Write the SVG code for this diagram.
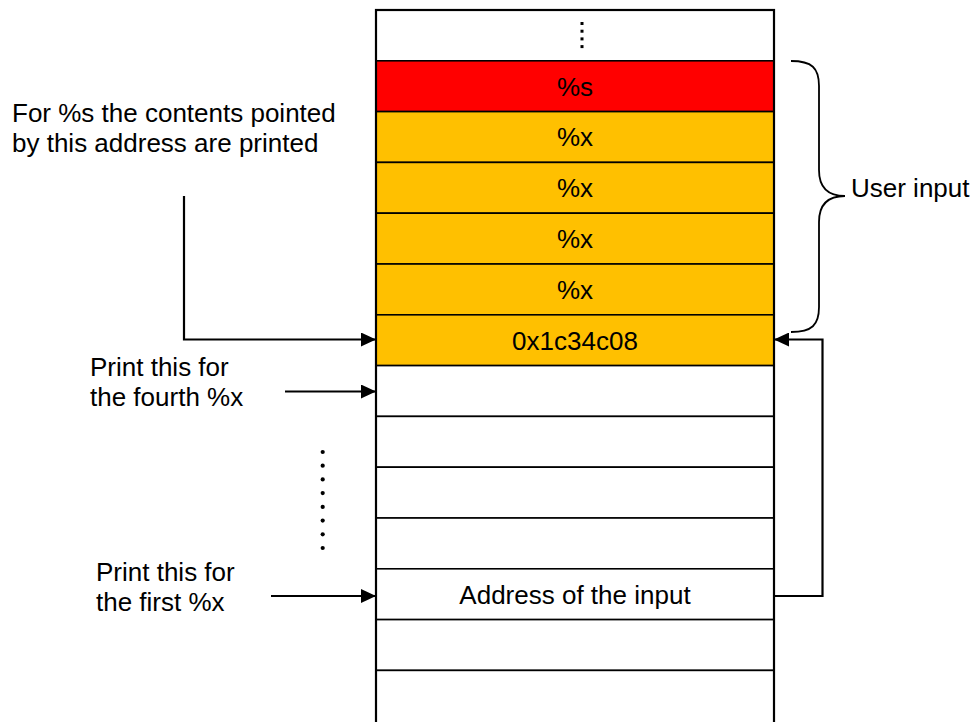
<svg xmlns="http://www.w3.org/2000/svg" width="974" height="722" viewBox="0 0 974 722">
<style>
.row{stroke:#000;stroke-width:1.6}
.w{fill:#fff}.r{fill:#ff0000}.o{fill:#ffc000}
.t{font-family:"Liberation Sans",Arial,sans-serif;font-size:26px;fill:#000}
.c{text-anchor:middle}
.ln{fill:none;stroke:#000;stroke-width:2.2}
</style>
<defs>
<marker id="ah" viewBox="0 0 15 14" refX="15" refY="7" markerWidth="15" markerHeight="14" markerUnits="userSpaceOnUse" orient="auto">
<path d="M0,0 L15,7 L0,14 Z" fill="#000"/>
</marker>
</defs>
<rect width="974" height="722" fill="#fff"/>
<g id="stack">
<g id="row0"><rect class="row w" x="376" y="10" width="398" height="50.8"/>
<rect x="580.5" y="22" width="3" height="3"/><rect x="580.5" y="29.7" width="3" height="3"/><rect x="580.5" y="37.4" width="3" height="3"/><rect x="580.5" y="45.1" width="3" height="3"/></g>
<g id="row1"><rect class="row r" x="376" y="60.8" width="398" height="50.8"/><text class="t c" x="575" y="95.5">%s</text></g>
<g id="row2"><rect class="row o" x="376" y="111.6" width="398" height="50.8"/><text class="t c" x="575" y="146.3">%x</text></g>
<g id="row3"><rect class="row o" x="376" y="162.4" width="398" height="50.8"/><text class="t c" x="575" y="197.1">%x</text></g>
<g id="row4"><rect class="row o" x="376" y="213.2" width="398" height="50.8"/><text class="t c" x="575" y="247.9">%x</text></g>
<g id="row5"><rect class="row o" x="376" y="264" width="398" height="50.8"/><text class="t c" x="575" y="298.7">%x</text></g>
<g id="row6"><rect class="row o" x="376" y="314.8" width="398" height="50.8"/><text class="t c" x="575" y="349.5">0x1c34c08</text></g>
<g id="row7"><rect class="row w" x="376" y="365.6" width="398" height="50.8"/></g>
<g id="row8"><rect class="row w" x="376" y="416.4" width="398" height="50.8"/></g>
<g id="row9"><rect class="row w" x="376" y="467.2" width="398" height="50.8"/></g>
<g id="row10"><rect class="row w" x="376" y="518" width="398" height="50.8"/></g>
<g id="row11"><rect class="row w" x="376" y="568.8" width="398" height="50.8"/><text class="t c" x="575" y="603.5">Address of the input</text></g>
<g id="row12"><rect class="row w" x="376" y="619.6" width="398" height="50.8"/></g>
<g id="row13"><rect class="row w" x="376" y="670.4" width="398" height="54"/></g>
<rect x="376" y="10" width="398" height="716" fill="none" stroke="#000" stroke-width="2.2"/>
</g>
<g id="label-s">
<text class="t" x="12" y="122">For %s the contents pointed</text>
<text class="t" x="12" y="151.5">by this address are printed</text>
</g>
<g id="label-fourth">
<text class="t" x="90" y="376">Print this for</text>
<text class="t" x="90" y="406">the fourth %x</text>
</g>
<g id="label-first">
<text class="t" x="96" y="581">Print this for</text>
<text class="t" x="96" y="610.5">the first %x</text>
</g>
<g id="label-user">
<text class="t" x="851" y="197">User input</text>
</g>
<g id="dots" fill="#000">
<circle cx="322.7" cy="452" r="2.1"/><circle cx="322.7" cy="465.7" r="2.1"/><circle cx="322.7" cy="479.4" r="2.1"/><circle cx="322.7" cy="493.1" r="2.1"/><circle cx="322.7" cy="506.9" r="2.1"/><circle cx="322.7" cy="520.6" r="2.1"/><circle cx="322.7" cy="534.3" r="2.1"/><circle cx="322.7" cy="548" r="2.1"/>
</g>
<g id="connectors">
<path class="ln" d="M184,196 V339.5 H376" marker-end="url(#ah)"/>
<path class="ln" d="M285,391.5 H376" marker-end="url(#ah)"/>
<path class="ln" d="M271,596 H376" marker-end="url(#ah)"/>
<path class="ln" d="M774,596 H822.5 V339.5 H774" marker-end="url(#ah)"/>
<path fill="none" stroke="#000" stroke-width="1.8" d="M791,61 C812,61 819,68 819,86 V170 C819,188 828,196 845,196 C828,196 819,204 819,222 V307 C819,325 812,332 791,332"/>
</g>
</svg>
